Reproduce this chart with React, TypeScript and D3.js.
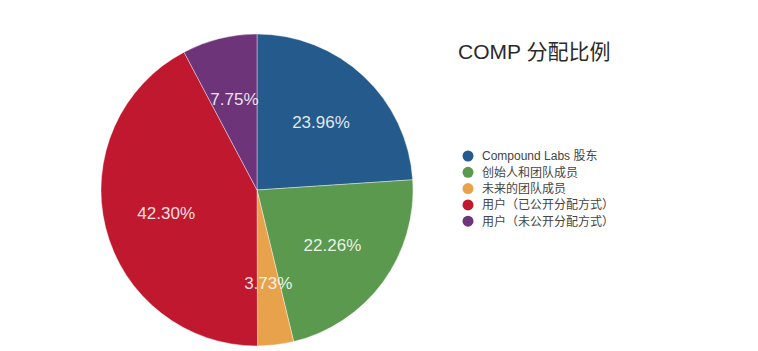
import React, {useEffect, useRef} from 'react'
import * as d3 from 'd3';

const title = 'COMP 分配比例';
const categories = ['Compound Labs 股东', '创始人和团队成员', '未来的团队成员', '用户（已公开分配方式）', '用户（未公开分配方式）'];
const shares = [23.96, 22.26, 3.73, 42.30, 7.75];
const colors = ['#245a8c', '#5b9a4e', '#e9a24c', '#c0182e', '#6e3479'];

export default function App() {
  const svgRef = useRef<SVGSVGElement>(null);

  useEffect(() => {
    const width = 758;
    const height = 351;
    const cx = 257, cy = 190, r = 156;

    const svg = d3.select(svgRef.current)
      .attr('width', width)
      .attr('height', height);
    svg.selectAll('*').remove();

    const data = categories.map((c, i) => ({name: c, value: shares[i], color: colors[i]}));

    const pie = d3.pie<any>().value(d => d.value).sort(null);
    const arc = d3.arc<any>().innerRadius(0).outerRadius(r);
    const labelArc = d3.arc<any>().innerRadius(r * 0.6).outerRadius(r * 0.6);

    const g = svg.append('g').attr('transform', `translate(${cx},${cy})`);
    const arcs = pie(data);

    g.selectAll('path')
      .data(arcs)
      .enter()
      .append('path')
      .attr('d', arc)
      .attr('fill', d => d.data.color)
      .attr('stroke', '#fff')
      .attr('stroke-width', 0.4);

    g.selectAll('text')
      .data(arcs)
      .enter()
      .append('text')
      .attr('transform', d => `translate(${labelArc.centroid(d)})`)
      .attr('text-anchor', 'middle')
      .attr('dy', '0.35em')
      .attr('fill', 'rgba(255,255,255,0.88)')
      .style('font-family', '"Liberation Sans", Arial, sans-serif')
      .style('font-size', '17px')
      .text(d => d.data.value.toFixed(2) + '%');

    svg.append('text')
      .attr('x', 458)
      .attr('y', 59)
      .attr('fill', '#2a2a2a')
      .style('font-family', '"Liberation Sans", "Noto Sans CJK SC", sans-serif')
      .style('font-size', '21px')
      .text(title);

    const legend = svg.append('g').attr('transform', 'translate(468,156)');
    const item = legend.selectAll('g')
      .data(data)
      .enter()
      .append('g')
      .attr('transform', (d, i) => `translate(0,${i * 16.3})`);
    item.append('circle')
      .attr('r', 5.5)
      .attr('fill', d => d.color);
    item.append('text')
      .attr('x', 14)
      .attr('dy', '0.36em')
      .attr('fill', '#444')
      .style('font-family', '"Liberation Sans", "Noto Sans CJK SC", sans-serif')
      .style('font-size', '12px')
      .text(d => d.name);
  }, []);

  return (
    <svg ref={svgRef} width={758} height={351} style={{position: 'absolute', left: 0, top: 0, background: '#fff'}}></svg>
  )
}
